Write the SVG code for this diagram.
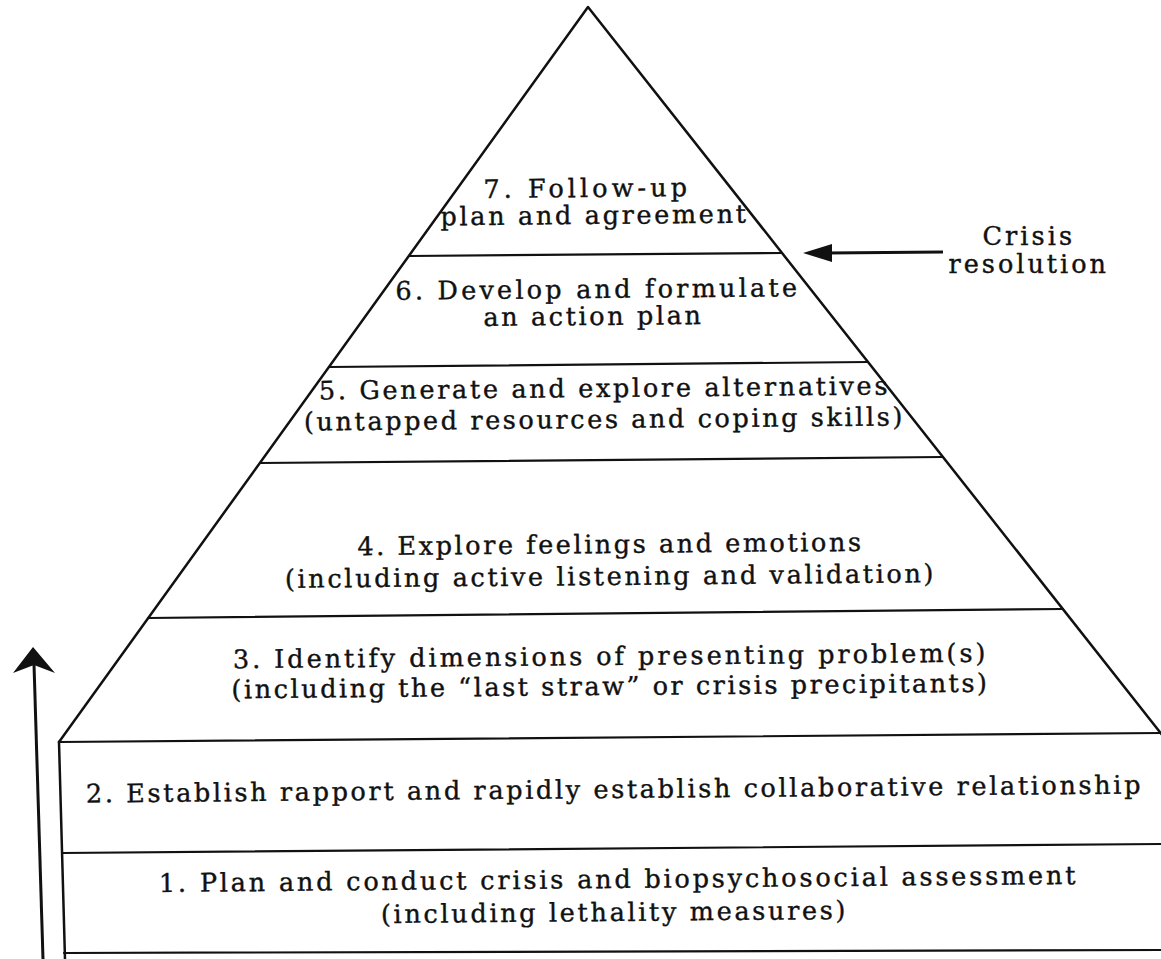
<svg xmlns="http://www.w3.org/2000/svg" width="1161" height="959" viewBox="0 0 1161 959">
<style>
.ln{stroke:#111;stroke-width:2.2;fill:none;stroke-linecap:round}
.edge{stroke:#111;stroke-width:2.5;fill:none;stroke-linecap:round;stroke-linejoin:round}
.t{font-family:"DejaVu Serif","Liberation Serif",serif;font-size:25.5px;fill:#111;stroke:#111;stroke-width:0.4;text-anchor:middle;letter-spacing:1.5px}
.ar{stroke:#111;stroke-width:3;fill:none}
.hd{fill:#111;stroke:none}
</style>
<rect width="1161" height="959" fill="#fff"/>
<g id="pyramid-outline">
<polyline class="edge" points="59,742 588,7 1163,736"/>
<line class="edge" x1="59" y1="742" x2="65" y2="959"/>
</g>
<g id="level7">
<text class="t" x="586" y="197" textLength="205" lengthAdjust="spacing" transform="rotate(-0.49 586 197)">7. Follow-up</text>
<text class="t" x="594" y="224" textLength="307" lengthAdjust="spacing" transform="rotate(-0.49 594 224)">plan and agreement</text>
<line class="ln" x1="409" y1="256" x2="782" y2="253"/>
</g>
<g id="level6">
<text class="t" x="597" y="298" textLength="403" lengthAdjust="spacing" transform="rotate(-0.49 597 298)">6. Develop and formulate</text>
<text class="t" x="593" y="325" textLength="219" lengthAdjust="spacing" transform="rotate(-0.49 593 325)">an action plan</text>
<line class="ln" x1="329" y1="367" x2="868" y2="362"/>
</g>
<g id="level5">
<text class="t" x="604" y="397" textLength="570" lengthAdjust="spacing" transform="rotate(-0.49 604 397)">5. Generate and explore alternatives</text>
<text class="t" x="604" y="428" textLength="600" lengthAdjust="spacing" transform="rotate(-0.49 604 428)">(untapped resources and coping skills)</text>
<line class="ln" x1="260" y1="463" x2="943" y2="457"/>
</g>
<g id="level4">
<text class="t" x="610" y="553" textLength="505" lengthAdjust="spacing" transform="rotate(-0.49 610 553)">4. Explore feelings and emotions</text>
<text class="t" x="610" y="585" textLength="650" lengthAdjust="spacing" transform="rotate(-0.49 610 585)">(including active listening and validation)</text>
<line class="ln" x1="148" y1="618" x2="1063" y2="609"/>
</g>
<g id="level3">
<text class="t" x="610" y="665" textLength="754" lengthAdjust="spacing" transform="rotate(-0.49 610 665)">3. Identify dimensions of presenting problem(s)</text>
<text class="t" x="610" y="695" textLength="757" lengthAdjust="spacing" transform="rotate(-0.49 610 695)">(including the “last straw” or crisis precipitants)</text>
<line class="ln" x1="59" y1="742" x2="1161" y2="733"/>
</g>
<g id="level2">
<text class="t" x="614" y="798" textLength="1056" lengthAdjust="spacing" transform="rotate(-0.49 614 798)">2. Establish rapport and rapidly establish collaborative relationship</text>
<line class="ln" x1="62" y1="853" x2="1161" y2="844"/>
</g>
<g id="level1">
<text class="t" x="618" y="888" textLength="918" lengthAdjust="spacing" transform="rotate(-0.49 618 888)">1. Plan and conduct crisis and biopsychosocial assessment</text>
<text class="t" x="614" y="921" textLength="466" lengthAdjust="spacing" transform="rotate(-0.49 614 921)">(including lethality measures)</text>
<line class="ln" x1="64" y1="953" x2="1161" y2="950"/>
</g>
<g id="crisis-label">
<text class="t" x="1028" y="245" textLength="91" lengthAdjust="spacing">Crisis</text>
<text class="t" x="1028" y="273" textLength="159" lengthAdjust="spacing">resolution</text>
</g>
<g id="connectors">
<line class="ar" x1="34" y1="664" x2="43" y2="959"/>
<path class="hd" d="M33,647 L55,673 L34,665 L13,673 Z"/>
<line class="ar" x1="828" y1="253" x2="943" y2="252"/>
<path class="hd" d="M803,253 L832,244 L832,262 Z"/>
</g>
</svg>
